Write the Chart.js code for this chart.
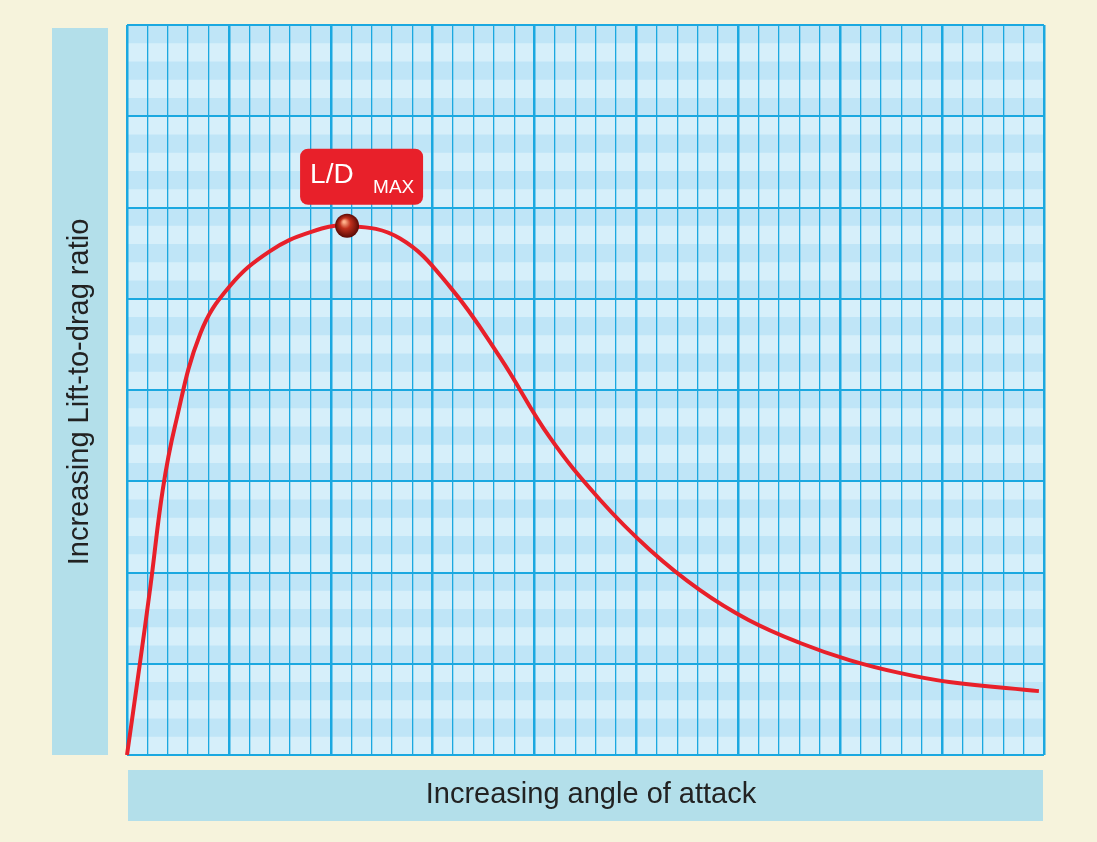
<!DOCTYPE html>
<html><head>
<script src="https://cdn.jsdelivr.net/npm/chart.js@4"></script>
<style>html,body{margin:0;background:#f6f3dc}#wrap{width:1097px;height:842px}</style>
</head><body><div id="wrap"><canvas id="c"></canvas></div>
<script>
// angle of attack (grid units) vs lift-to-drag ratio (grid units)
const angle = [0, 0.12, 0.23, 0.35, 0.47, 0.72, 1.01, 1.4, 1.8, 2.16, 2.68, 3.17, 3.66, 4.15, 4.64, 5.13, 5.62, 6.1, 6.6, 7.09, 7.58, 8.07, 8.95];
const ratio = [0, 0.95, 1.85, 2.9, 3.6, 4.62, 5.14, 5.52, 5.73, 5.80, 5.66, 5.13, 4.36, 3.48, 2.8, 2.25, 1.81, 1.48, 1.23, 1.04, 0.9, 0.8, 0.7];
const peakIndex = 9;
const xTitle = 'Increasing angle of attack';
const yTitle = 'Increasing Lift-to-drag ratio';

const decor = {
    id: 'decor',
    beforeDraw(chart) {
        const {ctx, chartArea: a, scales: {x, y}} = chart;
        ctx.save();
        ctx.fillStyle = '#d6effa';
        ctx.fillRect(a.left, a.top, a.right - a.left, a.bottom - a.top);
        ctx.fillStyle = '#bfe5f7';
        for (let v = 0.2; v < 8; v += 0.4) {
            const y1 = y.getPixelForValue(v), y2 = y.getPixelForValue(v + 0.2);
            ctx.fillRect(a.left, y2, a.right - a.left, y1 - y2);
        }
        // axis title boxes
        ctx.fillStyle = '#b3dfea';
        ctx.fillRect(52, 28, 56, 727);
        ctx.fillRect(128, 770, 915, 51);
        ctx.fillStyle = '#222';
        ctx.font = '29px "Liberation Sans", Arial, sans-serif';
        ctx.textAlign = 'center';
        ctx.textBaseline = 'middle';
        ctx.fillText(xTitle, 591, 795);
        ctx.translate(80, 392);
        ctx.rotate(-Math.PI / 2);
        ctx.fillText(yTitle, 0, 0);
        ctx.restore();
    },
    afterDatasetsDraw(chart) {
        const {ctx, scales: {x, y}} = chart;
        const px = x.getPixelForValue(angle[peakIndex]), py = y.getPixelForValue(ratio[peakIndex]);
        ctx.save();
        // label box
        ctx.fillStyle = '#e8202a';
        ctx.beginPath();
        ctx.roundRect(px - 47, py - 77, 123, 56, 8);
        ctx.fill();
        ctx.fillStyle = '#fff';
        ctx.textBaseline = 'alphabetic';
        ctx.font = '28px "Liberation Sans", Arial, sans-serif';
        ctx.fillText('L/D', px - 37, py - 43);
        ctx.font = '19px "Liberation Sans", Arial, sans-serif';
        ctx.fillText('MAX', px + 26, py - 33);
        // ball marker
        const g = ctx.createRadialGradient(px - 3, py - 4, 1, px, py, 12);
        g.addColorStop(0, '#ffb08a');
        g.addColorStop(0.4, '#c0301c');
        g.addColorStop(1, '#5a0a05');
        ctx.fillStyle = g;
        ctx.beginPath();
        ctx.arc(px, py, 12, 0, Math.PI * 2);
        ctx.fill();
        ctx.restore();
    }
};

new Chart(document.getElementById('c'), {
    type: 'line',
    data: {
        datasets: [{
            data: angle.map((a, i) => ({x: a, y: ratio[i]})),
            borderColor: '#e8202a',
            borderWidth: 4,
            pointRadius: 0,
            tension: 0.4,
            clip: false
        }]
    },
    options: {
        responsive: true,
        maintainAspectRatio: false,
        animation: false,
        layout: {padding: {left: 127, top: 25, right: 53, bottom: 87}},
        plugins: {legend: {display: false}, tooltip: {enabled: false}},
        scales: {
            x: {
                type: 'linear', min: 0, max: 9,
                ticks: {display: false, stepSize: 0.2},
                border: {display: false},
                grid: {
                    drawTicks: false,
                    color: '#1ba8e0',
                    lineWidth: (c) => Math.abs(c.tick.value - Math.round(c.tick.value)) < 1e-6 ? 2.5 : 1.3
                }
            },
            y: {
                min: 0, max: 8,
                ticks: {display: false, stepSize: 1},
                border: {display: false},
                grid: {drawTicks: false, color: '#1ba8e0', lineWidth: 2}
            }
        }
    },
    plugins: [decor]
});
</script>
</body></html>
